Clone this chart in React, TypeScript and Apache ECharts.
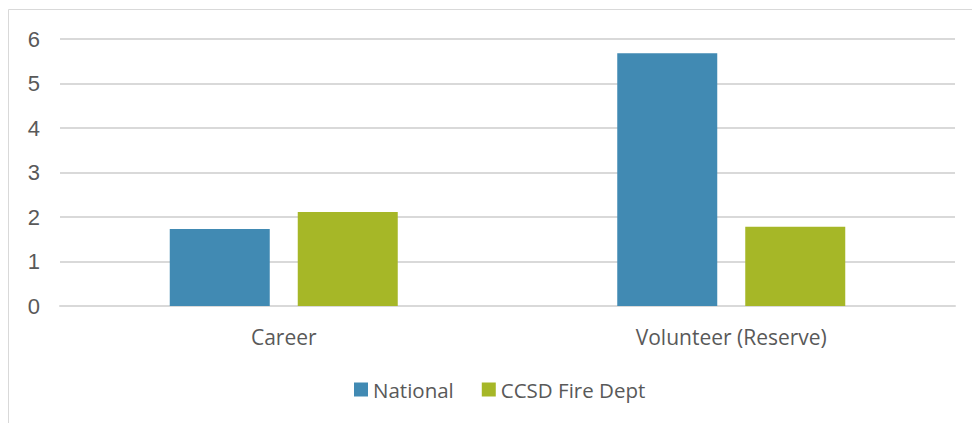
import React, { useEffect, useRef } from "react";
import * as echarts from "echarts";

const categories = ["Career", "Volunteer (Reserve)"];
const nationalValues = [1.73, 5.68];
const ccsdValues = [2.11, 1.78];
const seriesNames = ["National", "CCSD Fire Dept"];

export default function App() {
  const ref = useRef<HTMLDivElement>(null);
  useEffect(() => {
    if (!ref.current) return;
    const chart = echarts.init(ref.current, null, { renderer: "svg" });
    chart.setOption({
      animation: false,
      backgroundColor: "#ffffff",
      graphic: [
        {
          type: "rect",
          shape: { x: 8.5, y: 9.5, width: 1000, height: 500 },
          style: { fill: "none", stroke: "#d9d9d9", lineWidth: 1 },
          silent: true,
          z: -1,
        },
      ],
      grid: { left: 60, right: 17, top: 39, bottom: 117, containLabel: false },
      legend: {
        data: seriesNames,
        bottom: 18,
        left: 349,
        itemWidth: 14,
        itemHeight: 14,
        itemGap: 28,
        icon: "rect",
        textStyle: { color: "#595959", fontSize: 20.5, fontFamily: "Open Sans" },
      },
      xAxis: {
        type: "category",
        data: categories,
        axisLine: { lineStyle: { color: "#d9d9d9", width: 2 } },
        axisTick: { show: false },
        axisLabel: { color: "#595959", fontSize: 21, fontFamily: "Open Sans", margin: 20 },
      },
      yAxis: {
        type: "value",
        min: 0,
        max: 6,
        interval: 1,
        axisLine: { show: false },
        axisTick: { show: false },
        splitLine: { lineStyle: { color: "#d9d9d9", width: 2 } },
        axisLabel: { color: "#595959", fontSize: 22, fontFamily: "Liberation Sans", margin: 20 },
      },
      series: [
        {
          name: seriesNames[0],
          type: "bar",
          data: nationalValues,
          barWidth: 100,
          barGap: "28%",
          itemStyle: { color: "#418AB3" },
        },
        {
          name: seriesNames[1],
          type: "bar",
          data: ccsdValues,
          barWidth: 100,
          itemStyle: { color: "#A6B727" },
        },
      ],
    });
    return () => chart.dispose();
  }, []);
  return (
    <div
      ref={ref}
      style={{ position: "absolute", left: 0, top: 0, width: 972, height: 423 }}
    />
  );
}
